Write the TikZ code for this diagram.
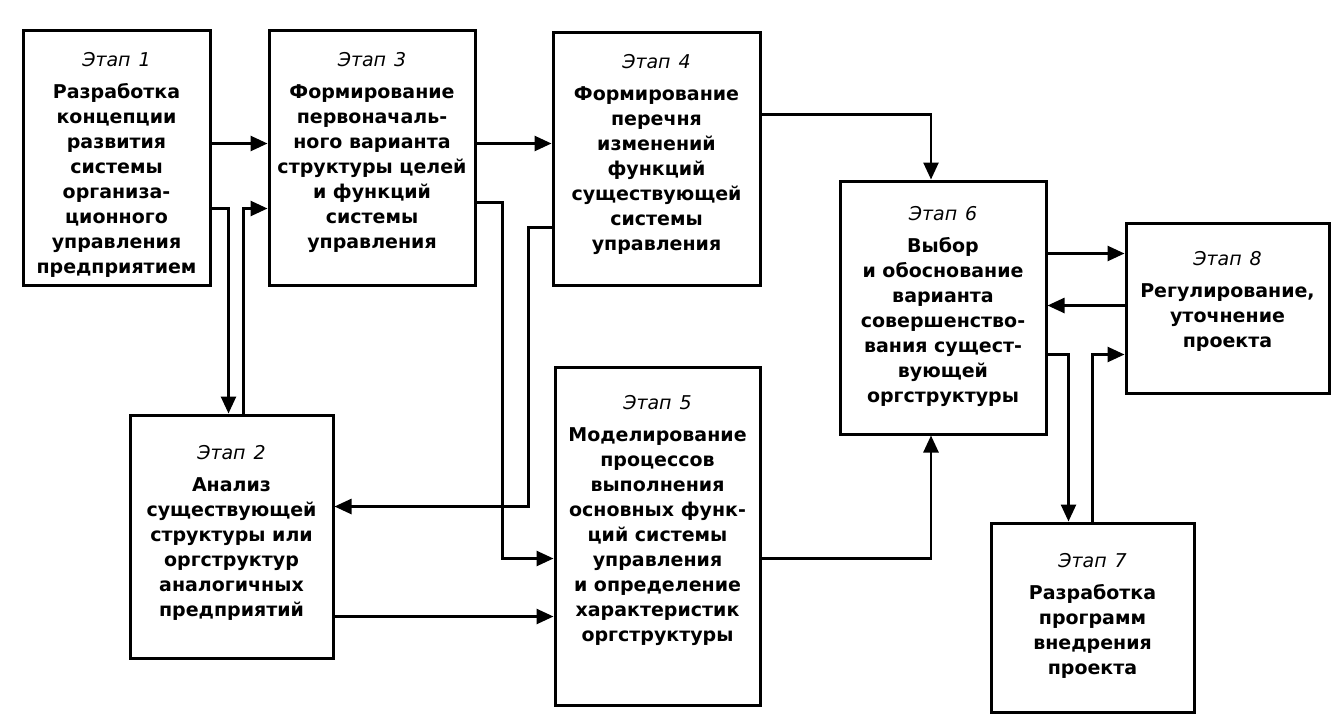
\documentclass[tikz,border=0pt]{standalone}
\usepackage{fontspec}
\setmainfont{DejaVu Sans}
\usepackage{tikz}
\usetikzlibrary{arrows.meta,positioning,calc}

% one stage box: number, width, height, top skip, body lines
\newcommand{\etap}[5]{\parbox[c][#3pt][t]{#2pt}{\centering
  \fontsize{19}{25}\selectfont\vspace*{#4pt}%
  {\itshape Этап\hspace{8pt}#1}\par\vspace{7pt}%
  \bfseries #5}}

\begin{document}
\begin{tikzpicture}[x=1pt, y=-1pt, >={Triangle[length=17pt,width=15pt]},
  stagebox/.style={draw, line width=3pt, inner sep=0pt},
  conn/.style={->, line width=2.6pt}]

\useasboundingbox (0,0) rectangle (1341,725);

%% === stages ===
\node[stagebox] (s1) at (116.5,158) {\etap{1}{187}{254}{21}{Разработка\\ концепции\\ развития\\ системы\\ организа-\\ ционного\\ управления\\ предприятием}};
\node[stagebox] (s3) at (372,158) {\etap{3}{206}{254}{21}{Формирование\\ первоначаль-\\ ного варианта\\ структуры целей\\ и функций\\ системы\\ управления}};
\node[stagebox] (s4) at (656.5,159) {\etap{4}{207}{252}{21}{Формирование\\ перечня\\ изменений\\ функций\\ существующей\\ системы\\ управления}};
\node[stagebox] (s2) at (231.5,536.5) {\etap{2}{203}{243}{30}{Анализ\\ существующей\\ структуры или\\ оргструктур\\ аналогичных\\ предприятий}};
\node[stagebox] (s5) at (657.5,536) {\etap{5}{205}{338}{28}{Моделирование\\ процессов\\ выполнения\\ основных функ-\\ ций системы\\ управления\\ и определение\\ характеристик\\ оргструктуры}};
\node[stagebox] (s6) at (943,307.5) {\etap{6}{206}{253}{25}{Выбор\\ и обоснование\\ варианта\\ совершенство-\\ вания сущест-\\ вующей\\ оргструктуры}};
\node[stagebox] (s8) at (1227.5,308) {\etap{8}{203}{170}{28}{Регулирование,\\ уточнение\\ проекта}};
\node[stagebox] (s7) at (1092.5,617.5) {\etap{7}{203}{189}{30}{Разработка\\ программ\\ внедрения\\ проекта}};

%% === connector points ===
\coordinate (p13) at ([yshift=-114pt]s1.north east);
\coordinate (p34) at ([yshift=-114pt]s3.north east);
\coordinate (p12) at ([yshift=-179pt]s1.north east);
\coordinate (q12) at ([xshift=100pt]s2.north west);
\coordinate (q23) at ([xshift=115pt]s2.north west);
\coordinate (p23) at ([yshift=-179pt]s3.north west);
\coordinate (p35) at ([yshift=-173pt]s3.north east);
\coordinate (q35) at ([yshift=-193pt]s5.north west);
\coordinate (p42) at ([yshift=-196pt]s4.north west);
\coordinate (q42) at ([yshift=-93pt]s2.north east);
\coordinate (p25) at ([yshift=-203pt]s2.north east);
\coordinate (p46) at ([yshift=-83pt]s4.north east);
\coordinate (q46) at ([xshift=-12pt]s6.north);
\coordinate (p56) at ([yshift=-193pt]s5.north east);
\coordinate (q56) at ([xshift=-12pt]s6.south);
\coordinate (p68) at ([yshift=-74pt]s6.north east);
\coordinate (p86) at ([yshift=-84pt]s8.north west);
\coordinate (p67) at ([yshift=-175pt]s6.north east);
\coordinate (q67) at ([xshift=79pt]s7.north west);
\coordinate (q78) at ([xshift=103pt]s7.north west);
\coordinate (p78) at ([yshift=-133pt]s8.north west);

%% === connectors ===
\draw[conn] (p13) -- (p13 -| s3.west);
\draw[conn] (p34) -- (p34 -| s4.west);
\draw[conn] (p12) -| (q12);
\draw[conn] (q23) |- (p23);
\draw[conn] (p35) -- ++(26pt,0) |- (q35);
\draw[conn] (p42) -- ++(-23pt,0) |- (q42);
\draw[conn] (p25) -- (p25 -| s5.west);
\draw[conn] (p46) -| (q46);
\draw[conn] (p56) -| (q56);
\draw[conn] (p68) -- (p68 -| s8.west);
\draw[conn] (p86) -- (p86 -| s6.east);
\draw[conn] (p67) -| (q67);
\draw[conn] (q78) |- (p78);

\end{tikzpicture}
\end{document}
